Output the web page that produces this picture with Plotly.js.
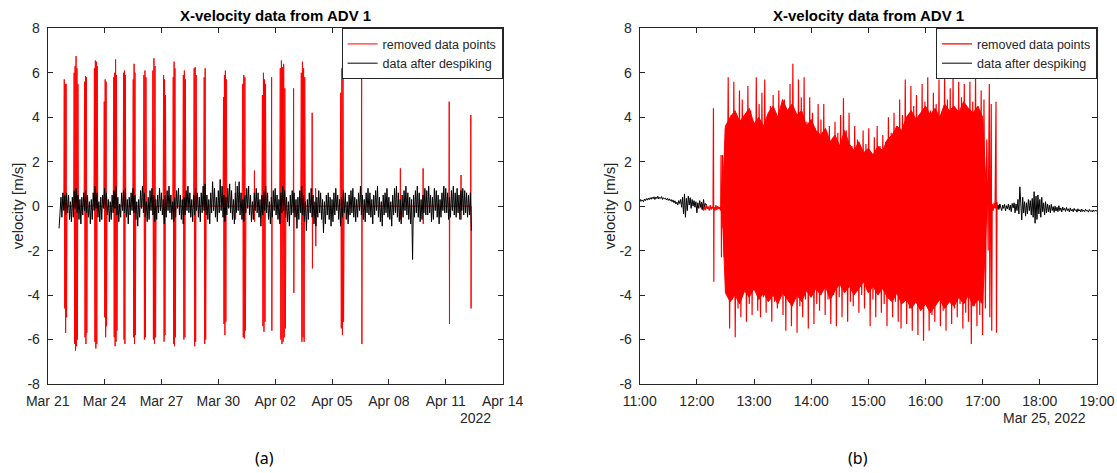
<!DOCTYPE html>
<html><head><meta charset="utf-8">
<script src="https://cdn.plot.ly/plotly-3.0.1.min.js"></script>
<style>html,body{margin:0;padding:0;background:#fff;} #chart{width:1117px;height:473px;}</style>
</head><body><div id="chart"></div>
<script>
// ---------------- data ----------------
const seriesNames = ['removed data points', 'data after despiking'];
const panelTitles = ['X-velocity data from ADV 1', 'X-velocity data from ADV 1'];
const panelLetters = ['(a)', '(b)'];
const yAxisLabel = 'velocity [m/s]';
const yTickVals = [-8, -6, -4, -2, 0, 2, 4, 6, 8];
const yTickLabels = ['-8', '-6', '-4', '-2', '0', '2', '4', '6', '8'];

// panel (a): days after 2022-03-21 00:00
const leftTickDays = [0, 3, 6, 9, 12, 15, 18, 21, 24];
const leftTickLabels = ['Mar 21', 'Mar 24', 'Mar 27', 'Mar 30', 'Apr 02', 'Apr 05', 'Apr 08', 'Apr 11', 'Apr 14'];
const leftYearLabel = '2022';

// removed spikes (red): bursts of samples between start and end day
const burstStartDay = [0.85,1.37,1.92,2.44,2.96,3.46,3.98,4.49,5.05,5.52,6.09,6.60,7.13,7.70,8.23,9.25,9.90,10.26,10.90,11.30,11.80,12.24,12.96,13.35,13.94,14.13,15.43,16.55,18.60,19.80,21.17,21.80,22.31];
const burstEndDay   = [1.02,1.62,2.09,2.64,3.13,3.68,4.12,4.65,5.21,5.72,6.24,6.76,7.29,7.86,8.36,9.45,9.92,10.46,10.92,11.52,11.84,12.57,13.00,13.59,13.98,14.15,15.64,16.59,18.62,19.82,21.21,21.82,22.35];
const burstVel = [
  [0,5.7,-4.6,5.5,-5.7,5.5,-5.0,0],
  [0,6.0,-6.2,6.3,-6.5,6.75,-6.3,6.2,-6.0,5.5,0],
  [0,5.6,-5.9,5.85,-6.2,5.8,-5.7,0],
  [0,6.2,-6.1,6.55,-6.4,6.5,-6.2,6.3,0],
  [0,4.7,-5.0,5.7,-5.9,5.6,-5.4,0],
  [0,5.8,-5.9,6.0,-6.3,6.6,-6.1,5.9,-5.6,0],
  [0,6.0,-6.0,6.1,-6.2,5.9,0],
  [0,5.7,-5.9,6.4,-6.2,6.0,-5.8,0],
  [0,5.9,-6.0,6.1,-5.9,5.8,0],
  [0,6.1,-6.0,6.65,-6.2,6.3,-5.9,0],
  [0,5.9,-6.1,5.7,-5.8,5.0,0],
  [0,5.8,-6.2,6.5,-6.3,6.2,-5.9,0],
  [0,5.9,-6.0,6.1,-5.9,5.7,0],
  [0,6.2,-6.3,6.25,-6.1,5.9,0],
  [0,5.8,-6.2,6.2,-6.0,0],
  [0,4.9,-5.3,5.9,-5.8,6.1,-5.2,5.7,0],
  [0,1.1,-0.6,0],
  [0,5.5,-5.9,5.9,-5.95,5.8,-5.6,0],
  [0,1.6,-0.7,0],
  [0,5.0,-5.4,6.0,-5.65,5.7,-5.2,5.5,0],
  [0,5.8,-5.6,0],
  [0,6.2,-6.0,6.55,-6.2,6.25,-6.1,6.4,-5.9,5.3,-5.5,0],
  [0,5.3,-3.9,0],
  [0,6.0,-6.1,6.5,-5.9,6.2,-6.1,5.8,0],
  [0,4.2,-2.8,0],
  [0,0.8,-1.8,0],
  [0,5.1,-5.5,6.2,-5.8,5.9,-5.2,0],
  [0,6.2,-6.2,0],
  [0,1.7,-0.6,0],
  [0,1.7,-0.8,0],
  [0,4.7,-5.3,0],
  [0,1.4,-0.6,0],
  [0,4.1,-4.6,0]
];

// despiked data (black), sampled every 0.05 day from day 0.6
const leftBlackStartDay = 0.6;
const leftBlackStepDay = 0.05;
const leftBlackVel = [
  -1.0,-0.3,0.4,-0.5,0.6,-0.2,0.5,-0.4,
  0.6,-0.3,0.5,-0.6,0.2,-0.7,0.4,-0.5,0.7,-0.1,0.8,-0.3,0.5,-0.6,0.3,-0.8,0.4,-0.4,0.6,-0.2,
  0.7,-0.3,0.5,-0.5,0.2,-0.8,0.3,-0.6,0.6,-0.2,0.9,-0.1,0.6,-0.5,0.2,-0.7,0.4,-0.6,0.5,-0.1,
  0.8,-0.2,0.6,-0.4,0.3,-0.7,0.2,-0.6,0.5,-0.3,0.7,-0.1,0.9,-0.4,0.4,-0.7,0.1,-0.5,0.6,-0.2,
  0.7,-0.3,0.8,-0.5,0.3,-0.8,0.4,-0.4,0.6,-0.2,0.8,-0.3,0.5,-0.6,0.2,-0.9,0.3,-0.5,0.7,-0.1,
  0.9,-0.3,0.6,-0.5,0.2,-0.7,0.4,-0.6,0.7,-0.2,0.8,-0.4,0.5,-0.7,0.3,-0.6,0.5,-0.3,0.8,-0.2,
  0.6,-0.4,0.3,-0.8,0.5,-0.5,0.7,-0.2,0.9,-0.3,0.5,-0.6,0.2,-0.7,0.4,-0.5,0.7,-0.1,0.8,-0.4,
  0.5,-0.6,0.3,-0.8,0.4,-0.4,0.7,-0.2,0.9,-0.3,0.6,-0.5,0.3,-0.7,0.5,-0.4,0.8,-0.2,0.6,-0.5,
  0.4,-0.7,0.6,-0.3,0.9,-0.2,1.0,-0.4,0.5,-0.6,0.3,-0.8,0.6,-0.3,1.1,-0.2,0.8,-0.5,0.4,-0.7,
  0.7,-0.3,1.2,-0.2,0.9,-0.5,0.5,-0.7,0.4,-0.4,0.8,-0.1,1.0,-0.3,0.7,-0.6,0.3,-0.8,0.6,-0.3,
  0.9,-0.2,1.1,-0.4,0.6,-0.6,0.3,-0.7,0.5,-0.3,0.8,-0.1,0.9,-0.4,0.5,-0.7,0.2,-0.6,0.6,-0.2,
  0.8,-0.3,0.6,-0.5,0.3,-0.9,0.5,-0.4,0.7,-0.2,0.9,-0.3,0.6,-0.6,0.2,-0.8,0.4,-0.5,0.7,-0.2,
  0.8,-0.4,0.5,-0.6,0.3,-0.8,0.6,-0.3,0.9,-0.2,0.7,-0.5,0.4,-0.7,0.2,-0.9,0.5,-0.4,0.7,-0.3,
  0.6,-0.5,0.3,-1.0,0.4,-0.6,0.7,-0.3,0.9,-0.4,0.5,-0.7,0.2,-1.1,0.3,-0.6,0.6,-0.3,0.8,-0.5,
  0.5,-0.8,0.2,-0.9,0.4,-0.5,0.7,-0.3,0.6,-0.6,0.3,-1.2,0.2,-0.8,0.5,-0.4,0.6,-0.6,0.4,-0.9,
  0.3,-0.7,0.6,-0.4,0.8,-0.2,0.5,-0.6,0.3,-0.9,0.4,-0.5,0.7,-0.3,0.6,-0.6,0.2,-0.8,0.5,-0.4,
  0.7,-0.3,0.8,-0.5,0.4,-0.7,0.3,-0.5,0.6,-0.2,0.9,-0.4,0.5,-0.6,0.3,-0.7,0.6,-0.3,0.8,-0.4,
  0.6,-0.5,0.3,-0.8,0.5,-0.4,0.7,-0.2,0.9,-0.5,0.4,-0.7,0.2,-0.9,0.5,-0.4,0.6,-0.3,0.8,-0.5,
  0.4,-0.6,0.2,-0.9,0.5,-0.4,0.8,-0.3,0.9,-0.5,0.6,-0.7,0.3,-0.8,0.5,-0.5,0.7,-0.2,0.9,-0.4,
  0.6,-0.6,0.4,-0.8,0.3,-2.4,0.5,-0.5,0.7,-0.3,0.9,-0.5,0.6,-0.7,0.3,-0.6,0.5,-0.3,0.8,-0.4,
  0.7,-0.4,0.9,-0.3,0.5,-0.7,0.4,-0.6,0.8,-0.2,0.7,-0.5,0.5,-0.8,0.3,-0.5,0.6,-0.2,0.9,-0.3,
  0.8,-0.3,0.6,-0.6,0.4,-0.5,0.7,-0.2,0.9,-0.4,0.6,-0.5,0.8,-0.3,0.5,-0.6,0.7,-0.2,0.8,-0.4,
  0.7,-0.3,0.6,-0.5,0.5,-0.4,0.6,-1.1
];

// panel (b): minutes after 2022-03-25 11:00
const rightTickHours = [11, 12, 13, 14, 15, 16, 17, 18, 19];
const rightTickLabels = ['11:00', '12:00', '13:00', '14:00', '15:00', '16:00', '17:00', '18:00', '19:00'];
const rightDateLabel = 'Mar 25, 2022';

// dense removed block: extent of the solid core
const blockCoreMin = [87,90,95,100,105,110,115,120,125,130,135,140,145,150,155,160,165,170,175,180,185,190,195,200,205,210,215,220,225,230,
  235,240,245,250,255,260,265,270,275,280,285,290,295,300,305,310,315,320,325,330,335,340,345,350,355,360,364];
const blockCoreUpper = [0.5,3.6,4.0,4.3,3.8,4.1,4.4,3.7,4.0,3.6,4.2,4.5,4.0,4.8,4.3,4.6,4.1,4.3,3.6,3.9,3.4,3.2,3.5,2.9,3.2,2.7,3.4,2.8,2.5,2.9,
  2.4,2.6,2.3,2.7,2.5,3.0,3.2,3.6,3.4,4.0,4.3,3.9,4.2,4.5,4.1,4.4,4.0,4.6,4.3,4.5,4.2,4.7,4.4,4.2,4.5,4.0,0.5];
const blockCoreLower = [-0.5,-3.9,-4.3,-4.0,-4.4,-3.8,-4.1,-3.7,-4.2,-3.9,-4.3,-4.0,-4.4,-3.9,-4.2,-4.5,-4.0,-4.3,-3.8,-4.1,-3.7,-4.0,-3.6,-4.2,-3.8,-3.5,-3.9,-3.6,-4.0,-3.7,
  -3.4,-3.9,-3.6,-4.0,-3.7,-4.1,-4.3,-3.9,-4.4,-4.2,-4.6,-4.3,-4.7,-4.4,-4.8,-4.5,-4.2,-4.6,-4.3,-4.5,-4.1,-4.4,-4.0,-4.5,-4.2,-4.4,-0.5];

// dense removed block: positive and negative swings, a pair every 2.95 min from minute 87
const blockStartMin = 87;
const blockStepMin = 2.95;
const blockUpperVel = [2.3,3.5,5.8,4.1,5.6,3.9,5.2,4.8,3.6,5.4,4.3,3.8,5.8,4.6,5.1,5.7,3.9,4.5,5.0,3.7,
  5.2,4.4,4.8,3.9,5.5,6.4,4.2,5.7,4.9,5.8,3.8,4.9,4.2,3.5,4.6,3.9,4.6,3.1,3.6,2.9,
  3.8,3.3,4.1,4.85,3.4,4.2,2.7,3.6,3.0,2.6,3.4,2.8,3.5,2.4,3.1,3.6,2.7,3.2,2.9,4.0,
  3.3,4.2,3.6,4.8,4.1,5.7,3.9,5.4,4.5,5.0,4.0,5.5,4.7,5.8,4.3,5.1,4.6,5.7,3.9,6.0,
  4.8,5.3,6.1,4.4,5.6,4.9,5.5,4.1,5.6,4.7,5.9,4.4,5.2,4.8,3.0];
const blockLowerVel = [-2.3,-3.6,-5.5,-4.2,-5.9,-4.6,-5.0,-3.9,-5.2,-4.4,-4.9,-3.8,-4.7,-5.0,-4.1,-4.8,-3.9,-5.2,-4.3,-4.6,
  -3.8,-4.9,-5.6,-4.3,-5.4,-4.0,-5.7,-4.5,-5.0,-4.2,-5.5,-3.9,-5.3,-4.4,-4.7,-3.8,-4.9,-4.2,-5.3,-4.0,
  -5.4,-4.1,-5.0,-3.7,-5.2,-4.3,-4.5,-3.6,-4.8,-4.0,-4.6,-3.8,-5.4,-4.2,-5.0,-3.9,-4.8,-4.4,-5.4,-3.9,
  -5.0,-4.3,-5.2,-5.5,-4.1,-5.3,-4.6,-5.6,-4.2,-5.8,-4.5,-6.05,-4.4,-5.6,-4.9,-5.2,-4.3,-5.4,-4.7,-5.6,
  -4.2,-5.3,-4.6,-5.0,-4.4,-5.5,-4.8,-5.2,-6.2,-4.5,-5.4,-4.9,-5.8,-4.6,-2.0];

// removed points just before / after the block
const rightRedPreMin = [64,65,66,67,68,69,70,71,72,73,74,75,76,77,77.4,77.8,78,79,80,81,82,83,84,85,85.4,85.8,86,86.5];
const rightRedPreVel = [0.05,-0.15,0.1,-0.2,0.0,-0.18,0.08,-0.12,-0.02,-0.2,0.05,-0.15,-0.05,-0.1,4.4,-3.4,-0.05,-0.2,0.05,-0.18,0.0,-0.12,-0.05,-0.2,2.3,-2.3,0.1,-1.0];
const rightRedPostMin = [366,367,367.5,368,369,369.5,370,371,372,373,374,374.5,375,376,377,378];
const rightRedPostVel = [0.3,5.5,-5.0,0.2,4.6,-5.6,0.1,-0.2,0.15,-0.1,4.7,-5.7,0.2,-0.15,0.05,-0.1];

// despiked data (black), every minute
const rightBlackPreStartMin = 0;
const rightBlackPostStartMin = 376;
const rightBlackStepMin = 1;
const rightBlackPreVel = [
  0.18,0.30,0.22,0.28,0.20,0.32,0.25,0.34,0.27,0.36,
  0.29,0.38,0.31,0.40,0.33,0.42,0.30,0.41,0.34,0.45,
  0.32,0.40,0.35,0.43,0.30,0.38,0.33,0.36,0.28,0.35,
  0.26,0.33,0.24,0.30,0.20,0.28,0.15,0.24,0.10,0.18,
  0.05,0.25,0.12,0.30,-0.05,0.40,-0.35,0.55,-0.50,0.35,
  -0.20,0.45,0.05,0.38,-0.10,0.30,0.00,0.25,-0.05,0.20,
  -0.30,0.15,-0.10,0.25,-0.05,0.18,-0.15,0.30,-0.02,0.12,0.05];
const rightBlackPostVel = [
  0.05,-0.15,0.10,-0.05,-0.20,0.05,-0.10,0.08,-0.22,0.02,
  -0.12,0.10,-0.18,0.05,-0.25,0.12,-0.08,0.15,-0.30,0.10,
  -0.20,0.30,-0.35,0.87,-0.25,-0.62,0.40,-0.30,0.20,-0.45,
  0.15,-0.35,0.30,-0.20,0.25,-0.40,0.35,-0.50,0.65,-0.77,
  0.45,-0.60,0.50,-0.35,0.30,-0.50,0.40,-0.25,0.15,-0.40,
  0.20,-0.30,0.10,-0.25,0.05,-0.30,0.08,-0.20,-0.02,-0.28,
  0.00,-0.22,-0.05,-0.25,0.02,-0.20,-0.08,-0.26,-0.04,-0.18,
  -0.10,-0.24,-0.06,-0.20,-0.12,-0.26,-0.08,-0.22,-0.14,-0.25,
  -0.10,-0.20,-0.15,-0.27,-0.12,-0.22,-0.16,-0.26,-0.13,-0.24,
  -0.18,-0.25,-0.14,-0.22,-0.19,-0.27,-0.15,-0.23,-0.20,-0.26,
  -0.17,-0.24,-0.19,-0.22,-0.20];

// ---------------- build ----------------
const DAY = 86400000, MIN = 60000;
const leftT0 = Date.UTC(2022, 2, 21);
const rightT0 = Date.UTC(2022, 2, 25, 11, 0);
const dayMs = d => leftT0 + d * DAY;
const minMs = m => rightT0 + m * MIN;

const redLX = [], redLY = [];
burstVel.forEach((vals, k) => {
  const s = burstStartDay[k], e = burstEndDay[k], n = vals.length;
  vals.forEach((v, j) => { redLX.push(dayMs(s + (e - s) * j / (n - 1))); redLY.push(v); });
});
const blackLX = leftBlackVel.map((v, i) => dayMs(leftBlackStartDay + i * leftBlackStepDay));

// right red: core area
const coreT = blockCoreMin.map(minMs);
const coreX = coreT.concat(coreT.slice().reverse(), [coreT[0]]);
const coreY = blockCoreUpper.concat(blockCoreLower.slice().reverse(), [blockCoreUpper[0]]);

// right red: pre segment, block (alternating swings), post segment
const redRX = [], redRY = [];
rightRedPreMin.forEach((m, i) => { redRX.push(minMs(m)); redRY.push(rightRedPreVel[i]); });
blockUpperVel.forEach((u, i) => {
  const t = blockStartMin + i * blockStepMin;
  redRX.push(minMs(t)); redRY.push(u);
  redRX.push(minMs(t + blockStepMin / 2)); redRY.push(blockLowerVel[i]);
});
rightRedPostMin.forEach((m, i) => { redRX.push(minMs(m)); redRY.push(rightRedPostVel[i]); });

const blackRX = rightBlackPreVel.map((v, i) => minMs(rightBlackPreStartMin + i * rightBlackStepMin))
  .concat([null], rightBlackPostVel.map((v, i) => minMs(rightBlackPostStartMin + i * rightBlackStepMin)));
const blackRY = rightBlackPreVel.concat([null], rightBlackPostVel);

const RED = '#ff0000', BLACK = '#000000', AX = '#262626';
const FONT = 'Liberation Sans, Arial, Helvetica, sans-serif';

const traces = [
  {x: redLX, y: redLY, type: 'scatter', mode: 'lines', name: seriesNames[0], line: {color: RED, width: 1}, xaxis: 'x', yaxis: 'y', legend: 'legend', hoverinfo: 'skip'},
  {x: blackLX, y: leftBlackVel, type: 'scatter', mode: 'lines', name: seriesNames[1], line: {color: BLACK, width: 1}, xaxis: 'x', yaxis: 'y', legend: 'legend', hoverinfo: 'skip'},
  {x: coreX, y: coreY, type: 'scatter', mode: 'lines', fill: 'toself', fillcolor: RED, line: {color: RED, width: 1}, xaxis: 'x2', yaxis: 'y2', showlegend: false, hoverinfo: 'skip'},
  {x: redRX, y: redRY, type: 'scatter', mode: 'lines', name: seriesNames[0], line: {color: RED, width: 1.2}, xaxis: 'x2', yaxis: 'y2', legend: 'legend2', hoverinfo: 'skip'},
  {x: blackRX, y: blackRY, type: 'scatter', mode: 'lines', name: seriesNames[1], line: {color: BLACK, width: 1}, connectgaps: false, xaxis: 'x2', yaxis: 'y2', legend: 'legend2', hoverinfo: 'skip'}
];

const W = 1117, H = 473;
const px = v => v / W, py = v => 1 - v / H;
const xDomL = [px(47.7), px(502.6)], xDomR = [px(639.7), px(1097)];
const yDom = [py(384), py(28.3)];

const axisCommon = {
  ticks: 'inside', ticklen: 5, tickwidth: 1, tickcolor: AX,
  showline: true, linecolor: AX, linewidth: 1, mirror: 'ticks',
  showgrid: false, zeroline: false, fixedrange: true,
  tickfont: {family: FONT, size: 14, color: AX}
};

const legendCommon = {
  xanchor: 'right', yanchor: 'top', y: yDom[1],
  bgcolor: '#ffffff', bordercolor: AX, borderwidth: 1,
  font: {family: FONT, size: 12.5, color: AX}, tracegroupgap: 0
};

const ann = (text, x, y, size, extra) => Object.assign({text, x, y, xref: 'paper', yref: 'paper', showarrow: false,
  xanchor: 'center', yanchor: 'middle', font: {family: FONT, size, color: AX}}, extra || {});

const layout = {
  width: W, height: H, margin: {l: 0, r: 0, t: 0, b: 0},
  paper_bgcolor: '#fff', plot_bgcolor: '#fff', showlegend: true,
  xaxis: Object.assign({}, axisCommon, {type: 'date', domain: xDomL, anchor: 'y',
    range: [dayMs(0), dayMs(24)], tickvals: leftTickDays.map(dayMs), ticktext: leftTickLabels, ticklabelstandoff: 4}),
  yaxis: Object.assign({}, axisCommon, {domain: yDom, anchor: 'x', range: [-8, 8], tickvals: yTickVals, ticktext: yTickLabels, ticklabelstandoff: 4}),
  xaxis2: Object.assign({}, axisCommon, {type: 'date', domain: xDomR, anchor: 'y2',
    range: [minMs(0), minMs(480)], tickvals: rightTickHours.map(h => minMs((h - 11) * 60)), ticktext: rightTickLabels, ticklabelstandoff: 4}),
  yaxis2: Object.assign({}, axisCommon, {domain: yDom, anchor: 'x2', range: [-8, 8], tickvals: yTickVals, ticktext: yTickLabels, ticklabelstandoff: 4}),
  legend: Object.assign({}, legendCommon, {x: xDomL[1]}),
  legend2: Object.assign({}, legendCommon, {x: xDomR[1]}),
  annotations: [
    ann('<b>' + panelTitles[0] + '</b>', (xDomL[0] + xDomL[1]) / 2, py(15.7), 15, {font: {family: FONT, size: 15, color: '#000'}}),
    ann('<b>' + panelTitles[1] + '</b>', (xDomR[0] + xDomR[1]) / 2, py(15.7), 15, {font: {family: FONT, size: 15, color: '#000'}}),
    ann(yAxisLabel, px(17), (yDom[0] + yDom[1]) / 2, 15, {textangle: -90}),
    ann(yAxisLabel, px(609), (yDom[0] + yDom[1]) / 2, 15, {textangle: -90}),
    ann(leftYearLabel, px(475.6), py(418), 14),
    ann(rightDateLabel, px(1044.6), py(418), 14),
    ann(panelLetters[0], px(264), py(458), 16, {font: {family: 'Noto Sans, sans-serif', size: 16, color: '#000'}}),
    ann(panelLetters[1], px(858), py(458), 16, {font: {family: 'Noto Sans, sans-serif', size: 16, color: '#000'}})
  ]
};

Plotly.newPlot('chart', traces, layout, {staticPlot: true, displayModeBar: false});
</script></body></html>
